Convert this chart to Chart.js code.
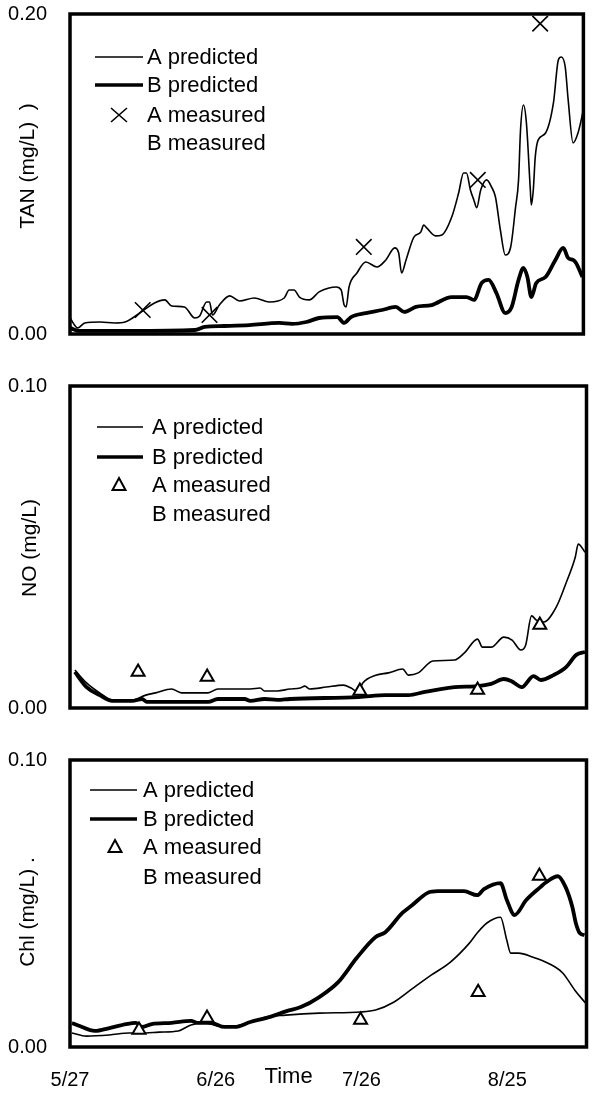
<!DOCTYPE html>
<html>
<head>
<meta charset="utf-8">
<script src="https://cdn.jsdelivr.net/npm/chart.js@4.4.1/dist/chart.umd.min.js"></script>
<style>
  body { margin: 0; background: #fff; }
  .box { position: absolute; left: 0; width: 596px; }
</style>
</head>
<body>
<div class="box" style="top:0;height:360px"><canvas id="tanChart"></canvas></div>
<div class="box" style="top:360px;height:370px"><canvas id="noChart"></canvas></div>
<div class="box" style="top:730px;height:363px"><canvas id="chlChart"></canvas></div>
<script>
// x values are days counted from 5/27
const dateTicks = [0, 30, 60, 90];
const dateLabels = ['5/27', '6/26', '7/26', '8/25'];

// TAN
const tanADays = [0, 1.6, 3.0, 6.1, 9.1, 11.2, 14.2, 17.2, 19.3, 20.7, 23.3, 25.4, 26.4, 27.8, 28.4, 29.0, 30.4, 32.5, 34.5, 37.5, 40.6, 43.6, 44.6, 45.6, 46.7, 48.7, 50.7, 52.7, 54.2, 55.2, 55.8, 56.2, 56.8, 58.4, 60.2, 62.5, 64.3, 66.1, 66.9, 67.5, 68.4, 70.0, 71.4, 72.0, 72.6, 74.4, 75.7, 77.7, 79.1, 80.1, 80.7, 81.5, 82.2, 82.8, 83.6, 84.8, 85.8, 86.6, 87.6, 88.6, 89.7, 90.7, 91.3, 91.7, 92.3, 92.9, 93.7, 93.9, 94.3, 94.7, 95.3, 96.8, 98.4, 99.4, 100.0, 100.8, 101.4, 102.4, 103.4, 104.5];
const tanAVals = [0.0100, 0.0038, 0.0069, 0.0075, 0.0069, 0.0075, 0.0131, 0.0194, 0.0213, 0.0175, 0.0169, 0.0100, 0.0113, 0.0200, 0.0200, 0.0119, 0.0181, 0.0238, 0.0206, 0.0225, 0.0200, 0.0225, 0.0275, 0.0275, 0.0231, 0.0213, 0.0263, 0.0288, 0.0294, 0.0275, 0.0181, 0.0169, 0.0294, 0.0381, 0.0450, 0.0419, 0.0463, 0.0538, 0.0506, 0.0381, 0.0463, 0.0606, 0.0638, 0.0681, 0.0663, 0.0613, 0.0619, 0.0731, 0.0881, 0.1006, 0.1006, 0.0900, 0.0838, 0.0790, 0.0900, 0.0963, 0.0919, 0.0856, 0.0650, 0.0494, 0.0544, 0.0794, 0.0963, 0.1275, 0.1431, 0.1319, 0.0900, 0.0806, 0.0900, 0.1106, 0.1213, 0.1256, 0.1444, 0.1713, 0.1731, 0.1669, 0.1463, 0.1194, 0.1256, 0.1400];
const tanBDays = [0, 2.0, 12.2, 25.4, 27.4, 31.4, 36.5, 42.6, 45.2, 48.1, 50.7, 54.4, 55.8, 57.2, 60.2, 63.5, 66.3, 68.0, 70.4, 73.6, 77.7, 80.7, 82.2, 83.8, 85.2, 86.8, 88.6, 89.9, 91.3, 92.3, 93.1, 93.9, 94.9, 96.8, 98.8, 100.4, 101.4, 102.4, 103.0, 104.3];
const tanBVals = [0.0038, 0.0019, 0.0019, 0.0025, 0.0044, 0.0050, 0.0056, 0.0069, 0.0063, 0.0075, 0.0100, 0.0106, 0.0069, 0.0106, 0.0131, 0.0150, 0.0169, 0.0138, 0.0169, 0.0181, 0.0231, 0.0231, 0.0213, 0.0319, 0.0338, 0.0256, 0.0131, 0.0169, 0.0338, 0.0413, 0.0356, 0.0231, 0.0319, 0.0356, 0.0463, 0.0538, 0.0475, 0.0463, 0.0444, 0.0356];
const tanMeasDays = [14.8, 28.4, 59.8, 83.0, 95.7];
const tanMeasVals = [0.0150, 0.0119, 0.0544, 0.0963, 0.1940];

// NO
const noADays = [1.0, 3.4, 6.1, 8.7, 12.8, 15.6, 17.6, 20.9, 22.9, 28.4, 30.4, 37.1, 39.1, 40.0, 42.6, 45.2, 47.3, 48.3, 49.3, 52.7, 56.2, 57.8, 59.2, 60.2, 62.9, 65.5, 68.4, 69.6, 71.6, 74.6, 79.1, 81.1, 83.8, 84.8, 86.6, 89.2, 90.9, 92.7, 93.7, 94.9, 95.9, 97.4, 100.0, 102.0, 103.9, 104.5, 105.9];
const noAVals = [0.0118, 0.0078, 0.0047, 0.0025, 0.0025, 0.0040, 0.0047, 0.0059, 0.0047, 0.0047, 0.0059, 0.0059, 0.0062, 0.0053, 0.0053, 0.0059, 0.0062, 0.0068, 0.0059, 0.0065, 0.0071, 0.0062, 0.0050, 0.0078, 0.0102, 0.0109, 0.0121, 0.0102, 0.0109, 0.0146, 0.0149, 0.0171, 0.0214, 0.0189, 0.0189, 0.0220, 0.0211, 0.0180, 0.0196, 0.0286, 0.0273, 0.0267, 0.0314, 0.0388, 0.0469, 0.0509, 0.0484];
const noBDays = [1.0, 3.4, 6.1, 8.7, 12.8, 14.8, 15.8, 28.4, 30.4, 35.9, 37.1, 40.0, 42.6, 45.2, 59.4, 64.9, 69.6, 73.0, 79.1, 83.8, 86.6, 89.2, 90.7, 92.9, 95.3, 96.8, 99.4, 102.0, 104.1, 105.9];
const noBVals = [0.0112, 0.0065, 0.0040, 0.0022, 0.0022, 0.0028, 0.0019, 0.0019, 0.0028, 0.0028, 0.0022, 0.0028, 0.0025, 0.0028, 0.0034, 0.0040, 0.0040, 0.0050, 0.0065, 0.0068, 0.0075, 0.0090, 0.0084, 0.0065, 0.0099, 0.0087, 0.0102, 0.0127, 0.0165, 0.0174];
const noMeasDays = [14.0, 28.2, 59.6, 83.8, 96.6];
const noMeasVals = [0.0112, 0.0096, 0.0053, 0.0056, 0.0258];

// Chl
const chlADays = [0.4, 3.4, 8.1, 12.2, 15.6, 18.3, 22.3, 24.9, 27.8, 30.4, 33.1, 37.1, 40.6, 44.4, 51.3, 59.8, 62.9, 66.7, 70.6, 74.4, 78.3, 82.2, 83.8, 85.8, 88.6, 89.9, 90.7, 92.3, 95.3, 98.4, 101.4, 103.9, 106.1];
const chlAVals = [0.0049, 0.0038, 0.0042, 0.0049, 0.0049, 0.0052, 0.0056, 0.0077, 0.0084, 0.0073, 0.0070, 0.0087, 0.0105, 0.0111, 0.0118, 0.0122, 0.0129, 0.0157, 0.0205, 0.0251, 0.0296, 0.0362, 0.0397, 0.0432, 0.0452, 0.0372, 0.0327, 0.0327, 0.0313, 0.0292, 0.0258, 0.0198, 0.0153];
const chlBDays = [0.4, 2.0, 5.1, 8.1, 11.6, 13.6, 14.8, 16.8, 20.9, 24.9, 26.4, 29.0, 31.8, 33.9, 37.1, 41.2, 44.6, 47.5, 51.3, 55.2, 59.0, 62.9, 64.9, 68.4, 70.4, 73.6, 75.7, 81.1, 83.8, 85.2, 88.6, 89.9, 91.5, 93.9, 96.8, 98.0, 100.4, 102.0, 103.4, 104.1, 104.9, 105.9];
const chlBVals = [0.0084, 0.0073, 0.0056, 0.0066, 0.0080, 0.0084, 0.0070, 0.0080, 0.0084, 0.0091, 0.0084, 0.0084, 0.0070, 0.0070, 0.0087, 0.0105, 0.0125, 0.0139, 0.0174, 0.0226, 0.0310, 0.0383, 0.0400, 0.0467, 0.0494, 0.0537, 0.0543, 0.0543, 0.0529, 0.0550, 0.0571, 0.0512, 0.0460, 0.0512, 0.0557, 0.0574, 0.0595, 0.0557, 0.0487, 0.0432, 0.0397, 0.0390];
const chlMeasDays = [14.2, 28.2, 59.8, 84.0, 96.6];
const chlMeasVals = [0.0059, 0.0101, 0.0094, 0.0191, 0.0596];

const legendNames = ['A predicted', 'B predicted', 'A measured', 'B measured'];

const FONT = '"Liberation Sans", Arial, sans-serif';

function pts(days, vals) {
    return days.map((d, i) => ({ x: d, y: vals[i] }));
}

function drawMarker(ctx, kind, x, y) {
    ctx.save();
    ctx.strokeStyle = '#000';
    if (kind === 'x') {
        ctx.lineWidth = 1.6;
        ctx.beginPath();
        ctx.moveTo(x - 8, y - 7); ctx.lineTo(x + 8, y + 7);
        ctx.moveTo(x + 8, y - 7); ctx.lineTo(x - 8, y + 7);
        ctx.stroke();
    } else {
        ctx.lineWidth = 2;
        ctx.fillStyle = '#fff';
        ctx.beginPath();
        ctx.moveTo(x, y - 7);
        ctx.lineTo(x + 6.5, y + 5);
        ctx.lineTo(x - 6.5, y + 5);
        ctx.closePath();
        ctx.fill();
        ctx.stroke();
    }
    ctx.restore();
}

// frame, legend, y title and the "Time" note
const decorPlugin = {
    id: 'decor',
    afterDraw(chart, args, opts) {
        const { ctx, chartArea: a } = chart;
        ctx.save();
        ctx.strokeStyle = '#000';
        ctx.lineWidth = 3.5;
        ctx.strokeRect(a.left, a.top, a.right - a.left, a.bottom - a.top);

        ctx.fillStyle = '#000';
        ctx.font = '22px ' + FONT;
        ctx.textBaseline = 'middle';
        ctx.textAlign = 'left';
        const lg = opts.legend;
        lg.rows.forEach((ry, i) => {
            if (i < 2) {
                ctx.lineWidth = i === 0 ? 1.5 : 3.5;
                ctx.beginPath();
                ctx.moveTo(lg.x0, ry);
                ctx.lineTo(lg.x1, ry);
                ctx.stroke();
            } else if (i === 2) {
                drawMarker(ctx, lg.marker, lg.mx, ry);
            }
            ctx.fillText(legendNames[i], lg.tx, ry + 1);
        });

        ctx.font = '21px ' + FONT;
        ctx.save();
        ctx.translate(opts.yTitle.x, opts.yTitle.y);
        ctx.rotate(-Math.PI / 2);
        ctx.textAlign = 'center';
        ctx.fillText(opts.yTitle.text, 0, 0);
        ctx.restore();

        if (opts.note) {
            ctx.font = '22px ' + FONT;
            ctx.textAlign = 'center';
            ctx.fillText(opts.note.text, chart.scales.x.getPixelForValue(opts.note.day), opts.note.y);
        }
        ctx.restore();
    }
};

function panel(id, cfg) {
    const measStyle = cfg.marker === 'x'
        ? { pointStyle: 'crossRot', pointRadius: 11, borderWidth: 1.6 }
        : { pointStyle: 'triangle', pointRadius: 7.5, borderWidth: 2, backgroundColor: '#fff' };
    new Chart(document.getElementById(id), {
        type: 'line',
        data: {
            datasets: [
                Object.assign({ data: cfg.meas, showLine: false, borderColor: '#000', pointBorderColor: '#000', pointBackgroundColor: '#fff' }, measStyle),
                { data: cfg.a, borderColor: '#000', borderWidth: 1.6, pointRadius: 0, cubicInterpolationMode: 'monotone' },
                { data: cfg.b, borderColor: '#000', borderWidth: 3.8, pointRadius: 0, cubicInterpolationMode: 'monotone' }
            ]
        },
        options: {
            responsive: true,
            maintainAspectRatio: false,
            animation: false,
            events: [],
            layout: { padding: cfg.padding },
            scales: {
                x: {
                    type: 'linear',
                    min: 0,
                    max: cfg.xMax,
                    display: cfg.showX,
                    grid: { display: false, drawTicks: false },
                    border: { display: false },
                    afterBuildTicks: ax => { ax.ticks = dateTicks.map(v => ({ value: v })); },
                    afterFit: ax => {
                        ax.height = cfg.showX ? 46 : 0;
                        ax.paddingLeft = 0;
                        ax.paddingRight = 0;
                    },
                    ticks: {
                        autoSkip: false,
                        maxRotation: 0,
                        padding: 21,
                        color: '#000',
                        font: { family: FONT, size: 20 },
                        callback: v => dateLabels[dateTicks.indexOf(v)]
                    }
                },
                y: {
                    min: 0,
                    max: cfg.yMax,
                    grid: { display: false, drawTicks: false },
                    border: { display: false },
                    afterBuildTicks: ax => { ax.ticks = [{ value: 0 }, { value: cfg.yMax }]; },
                    afterFit: ax => {
                        ax.width = 70;
                        ax.paddingTop = 0;
                        ax.paddingBottom = 0;
                    },
                    ticks: {
                        padding: 23,
                        color: '#000',
                        font: { family: FONT, size: 20 },
                        callback: v => v.toFixed(2)
                    }
                }
            },
            plugins: {
                legend: { display: false },
                tooltip: { enabled: false },
                decor: cfg.decor
            }
        },
        plugins: [decorPlugin]
    });
}

panel('tanChart', {
    a: pts(tanADays, tanAVals),
    b: pts(tanBDays, tanBVals),
    meas: pts(tanMeasDays, tanMeasVals),
    marker: 'x',
    xMax: 104.5,
    yMax: 0.2,
    showX: false,
    padding: { top: 14, right: 11, bottom: 26, left: 0 },
    decor: {
        legend: { rows: [57, 85, 115, 143], x0: 95, x1: 143, tx: 147, mx: 119, marker: 'x' },
        yTitle: { text: 'TAN (mg/L)  )', x: 28, y: 166 }
    }
});

panel('noChart', {
    a: pts(noADays, noAVals),
    b: pts(noBDays, noBVals),
    meas: pts(noMeasDays, noMeasVals),
    marker: 'tri',
    xMax: 106.2,
    yMax: 0.1,
    showX: false,
    padding: { top: 26, right: 3, bottom: 22, left: 0 },
    decor: {
        legend: { rows: [67, 97, 125, 154], x0: 97, x1: 143, tx: 152, mx: 119, marker: 'tri' },
        yTitle: { text: 'NO (mg/L)', x: 30, y: 188 }
    }
});

panel('chlChart', {
    a: pts(chlADays, chlAVals),
    b: pts(chlBDays, chlBVals),
    meas: pts(chlMeasDays, chlMeasVals),
    marker: 'tri',
    xMax: 106.3,
    yMax: 0.1,
    showX: true,
    padding: { top: 30, right: 2, bottom: 0, left: 0 },
    decor: {
        legend: { rows: [60, 89, 117, 147], x0: 90, x1: 137, tx: 143, mx: 115, marker: 'tri' },
        yTitle: { text: 'Chl (mg/L) .', x: 28, y: 182 },
        note: { text: 'Time', day: 45, y: 347 }
    }
});
</script>
</body>
</html>
